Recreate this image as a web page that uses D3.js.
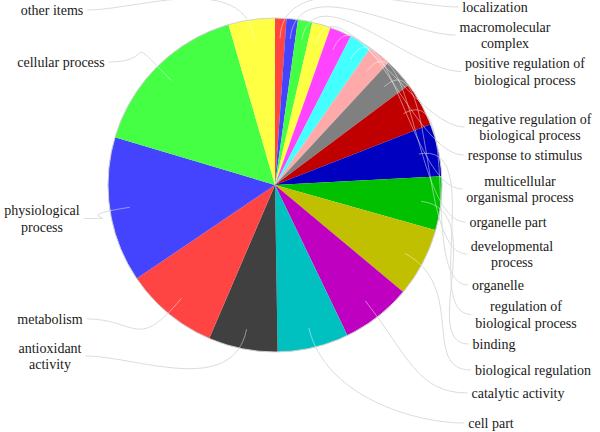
<!DOCTYPE html>
<html>
<head>
<meta charset="utf-8">
<script src="https://cdn.jsdelivr.net/npm/d3@7/dist/d3.min.js"></script>
<style>
  body { margin: 0; background: #fff; }
  .lbl { font-family: "Liberation Serif", "DejaVu Serif", "Times New Roman", serif; font-size: 14px; }
</style>
</head>
<body>
<div id="chart"></div>
<script>
// categories in pie order (clockwise from 12 o'clock)
const categories = [
  "localization", "macromolecular\ncomplex", "positive regulation of\nbiological process",
  "negative regulation of\nbiological process", "response to stimulus",
  "multicellular\norganismal process", "organelle part", "developmental\nprocess",
  "organelle", "regulation of\nbiological process", "binding", "biological regulation",
  "catalytic activity", "cell part", "antioxidant\nactivity", "metabolism",
  "physiological\nprocess", "cellular process", "other items"
];

// share of each slice (%)
const values = [1.1, 1.1, 1.4, 1.8, 2.1, 2.2, 2.2, 2.9, 4.3, 5.1, 5.2, 6.7, 6.8, 6.9, 6.7, 9.1, 14.1, 15.9, 4.5];

const colors = [
  "#ff4444", "#4444ff", "#44ff44", "#ffff44", "#ff44ff", "#44ffff", "#ffaaaa", "#808080",
  "#c00000", "#0000c0", "#00c000", "#c0c000", "#c000c0", "#00c0c0", "#404040",
  "#ff4444", "#4444ff", "#44ff44", "#ffff44"
];

// label block centres (layout only)
const labelLayout = [
  [495, 7], [505, 35], [525, 71.5], [530, 127], [525, 155], [520, 189], [508, 222],
  [512, 254], [498, 285], [526, 314.5], [494, 344], [533, 370], [518, 393], [491, 423],
  [50, 356], [50, 319], [42, 218.5], [61, 62], [52, 10]
];

const width = 600, height = 432;
const cx = 275, cy = 185, radius = 167;
const lineH = 16.5;

const svg = d3.select("#chart")
  .append("svg")
  .attr("width", width)
  .attr("height", height);

const pie = d3.pie().sort(null).value(d => d);
const arcs = pie(values);
const arc = d3.arc().innerRadius(0).outerRadius(radius);

const leaders = svg.append("g")
  .attr("fill", "none")
  .attr("stroke", "#dcdcdc")
  .attr("stroke-width", 1);

const g = svg.append("g").attr("transform", `translate(${cx},${cy})`);

g.selectAll("path.slice")
  .data(arcs)
  .enter().append("path")
  .attr("class", "slice")
  .attr("d", arc)
  .attr("fill", (d, i) => colors[i]);

g.append("circle")
  .attr("r", radius)
  .attr("fill", "none")
  .attr("stroke", "#d0d0d0")
  .attr("stroke-width", 1);

// labels
const labels = svg.selectAll("text.lbl")
  .data(categories)
  .enter().append("text")
  .attr("class", "lbl")
  .attr("text-anchor", "middle")
  .attr("fill", "#1a1a1a")
  .each(function(d, i) {
    const lines = d.split("\n");
    const [lx, ly] = labelLayout[i];
    const y0 = ly - (lines.length - 1) * lineH / 2;
    d3.select(this).selectAll("tspan")
      .data(lines)
      .enter().append("tspan")
      .attr("x", lx)
      .attr("y", (t, j) => y0 + j * lineH)
      .attr("dy", "0.35em")
      .text(t => t);
  });

// leader lines: start inside the slice, sweep out to the label
const inner = svg.append("g")
  .attr("fill", "none")
  .attr("stroke", "#ffffff")
  .attr("stroke-opacity", 0.45)
  .attr("stroke-width", 1);

labels.each(function(d, i) {
  const box = this.getBBox();
  const a = arcs[i];
  const mid = (a.startAngle + a.endAngle) / 2;
  const right = Math.sin(mid) > 0;
  const [, ly] = labelLayout[i];
  const ex = right ? box.x - 4 : box.x + box.width + 4;
  const p0 = [cx + Math.sin(mid) * radius * 0.88, cy - Math.cos(mid) * radius * 0.88];
  const p1 = [cx + Math.sin(mid) * radius * 1.3, cy - Math.cos(mid) * radius * 1.3];
  const p2 = [right ? ex - 50 : ex + 50, ly];
  const path = d3.path();
  path.moveTo(p0[0], p0[1]);
  path.bezierCurveTo(p1[0], p1[1], p2[0], p2[1], ex, ly);
  leaders.append("path").attr("d", path.toString());
  inner.append("path").attr("d", path.toString())
    .attr("clip-path", "url(#pieclip)");
});

svg.append("clipPath").attr("id", "pieclip")
  .append("circle").attr("cx", cx).attr("cy", cy).attr("r", radius);
</script>
</body>
</html>
